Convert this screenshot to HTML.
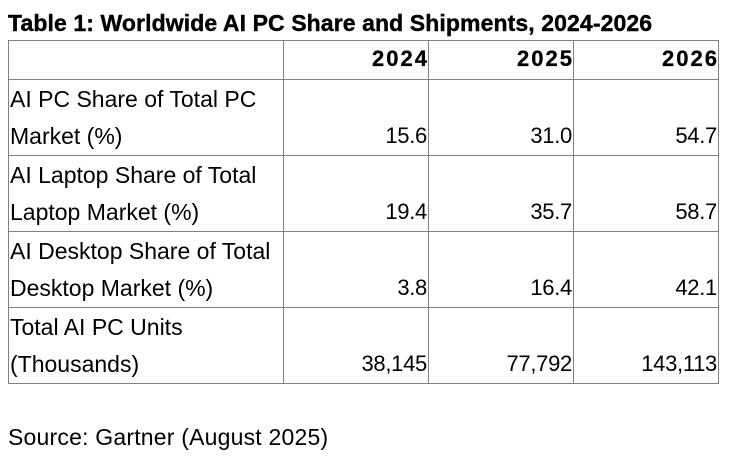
<!DOCTYPE html>
<html>
<head>
<meta charset="utf-8">
<style>
  html, body { margin:0; padding:0; background:#fff; }
  body { width:740px; height:460px; position:relative; overflow:hidden;
         font-family:"Liberation Sans", sans-serif; color:#000; }
  .h { position:absolute; left:8px; width:711px; height:1px; background:#808080; }
  .v { position:absolute; top:40px; width:1px; height:344px; background:#808080; }
  .t { position:absolute; font-size:22px; line-height:22px; white-space:nowrap; }
  .lb { position:absolute; left:10px; font-size:23px; line-height:23px; white-space:nowrap; }
  .r { text-align:right; letter-spacing:-0.3px; }
  .c1 { left:283px; width:144px; }
  .c2 { left:428px; width:144px; }
  .c3 { left:573px; width:144px; }
  .hd { font-weight:bold; letter-spacing:2px; -webkit-text-stroke:0.3px #000; }
  .title { position:absolute; left:8px; top:11.5px; font-size:23px; line-height:23px;
           font-weight:bold; white-space:nowrap; letter-spacing:0.1px; -webkit-text-stroke:0.4px #000; }
</style>
</head>
<body>
  <div class="title">Table 1: Worldwide AI PC Share and Shipments, 2024-2026</div>

  <div class="h" style="top:40px"></div>
  <div class="h" style="top:79px"></div>
  <div class="h" style="top:155px"></div>
  <div class="h" style="top:231px"></div>
  <div class="h" style="top:307px"></div>
  <div class="h" style="top:383px"></div>

  <div class="v" style="left:8px"></div>
  <div class="v" style="left:283px"></div>
  <div class="v" style="left:428px"></div>
  <div class="v" style="left:573px"></div>
  <div class="v" style="left:718px"></div>

  <!-- header -->
  <div class="t r hd c1" style="top:48.4px; width:146px">2024</div>
  <div class="t r hd c2" style="top:48.4px; width:146px">2025</div>
  <div class="t r hd c3" style="top:48.4px; width:146px">2026</div>

  <!-- row 1 -->
  <div class="lb" style="top:87.5px">AI PC Share of Total PC</div>
  <div class="lb" style="top:124.5px">Market (%)</div>
  <div class="t r c1" style="top:125.4px">15.6</div>
  <div class="t r c2" style="top:125.4px">31.0</div>
  <div class="t r c3" style="top:125.4px">54.7</div>

  <!-- row 2 -->
  <div class="lb" style="top:163.5px">AI Laptop Share of Total</div>
  <div class="lb" style="top:200.5px">Laptop Market (%)</div>
  <div class="t r c1" style="top:201.4px">19.4</div>
  <div class="t r c2" style="top:201.4px">35.7</div>
  <div class="t r c3" style="top:201.4px">58.7</div>

  <!-- row 3 -->
  <div class="lb" style="top:239.5px">AI Desktop Share of Total</div>
  <div class="lb" style="top:276.5px">Desktop Market (%)</div>
  <div class="t r c1" style="top:277.4px">3.8</div>
  <div class="t r c2" style="top:277.4px">16.4</div>
  <div class="t r c3" style="top:277.4px">42.1</div>

  <!-- row 4 -->
  <div class="lb" style="top:315.5px">Total AI PC Units</div>
  <div class="lb" style="top:352.5px">(Thousands)</div>
  <div class="t r c1" style="top:353.4px">38,145</div>
  <div class="t r c2" style="top:353.4px">77,792</div>
  <div class="t r c3" style="top:353.4px">143,113</div>

  <div class="lb" style="left:8px; top:425.5px; letter-spacing:0.2px">Source: Gartner (August 2025)</div>
</body>
</html>
